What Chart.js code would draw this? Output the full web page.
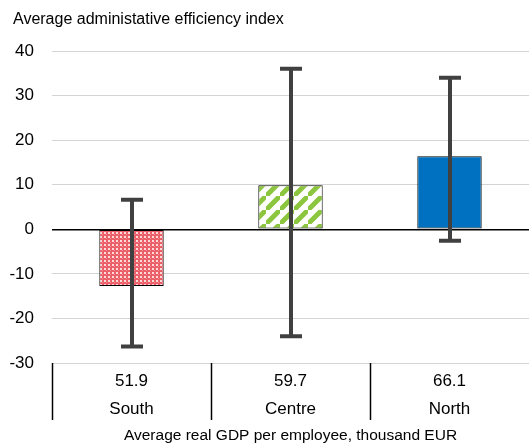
<!DOCTYPE html>
<html>
<head>
<meta charset="utf-8">
<script src="https://cdn.jsdelivr.net/npm/chart.js@4"></script>
<style>
  html, body { margin: 0; padding: 0; background: #fff; }
  #wrap { width: 529px; height: 445px; }
</style>
</head>
<body>
<div id="wrap"><canvas id="myChart" width="529" height="445"></canvas></div>
<script>
// data
var regions = ["South", "Centre", "North"];
var gdpPerEmployee = ["51.9", "59.7", "66.1"];
var efficiency = [-12.7, 9.9, 16.4];
var errLow = [-26.3, -24.0, -2.6];
var errHigh = [6.6, 36.0, 34.0];
var yMin = -30, yMax = 40, yStep = 10;

var FONT = "'Liberation Sans', Arial, sans-serif";

function checkerPattern() {
  var c = document.createElement('canvas');
  c.width = 4; c.height = 4;
  var g = c.getContext('2d');
  g.fillStyle = '#ec5f68';
  g.fillRect(0, 0, 4, 4);
  g.fillStyle = '#fcdada';
  g.fillRect(0, 0, 2, 2);
  g.fillStyle = '#f29298';
  g.fillRect(2, 2, 1, 1);
  return g.createPattern(c, 'repeat');
}

function stripePattern() {
  var s = 14;
  var c = document.createElement('canvas');
  c.width = s; c.height = s;
  var g = c.getContext('2d');
  g.fillStyle = '#ffffff';
  g.fillRect(0, 0, s, s);
  g.strokeStyle = '#8cc63f';
  g.lineWidth = 5;
  g.beginPath();
  g.moveTo(-s, s * 2); g.lineTo(s * 2, -s);
  g.moveTo(-s * 2, s); g.lineTo(s, -s * 2);
  g.moveTo(0, s * 3); g.lineTo(s * 3, 0);
  g.stroke();
  return g.createPattern(c, 'repeat');
}

var errorBars = {
  id: 'errorBars',
  afterDatasetsDraw: function (chart) {
    var ctx = chart.ctx;
    var y = chart.scales.y;
    var meta = chart.getDatasetMeta(0);
    ctx.save();
    ctx.strokeStyle = '#404040';
    ctx.lineWidth = 4;
    meta.data.forEach(function (bar, i) {
      var x = Math.round(bar.x);
      var top = y.getPixelForValue(errHigh[i]);
      var bot = y.getPixelForValue(errLow[i]);
      ctx.beginPath();
      ctx.moveTo(x, top); ctx.lineTo(x, bot);
      ctx.moveTo(x - 11, top); ctx.lineTo(x + 11, top);
      ctx.moveTo(x - 11, bot); ctx.lineTo(x + 11, bot);
      ctx.stroke();
    });
    ctx.restore();
  }
};

var topTitle = {
  id: 'topTitle',
  afterDraw: function (chart) {
    var ctx = chart.ctx;
    ctx.save();
    ctx.fillStyle = '#000';
    ctx.font = '16px ' + FONT;
    ctx.textBaseline = 'middle';
    ctx.fillText('Average administative efficiency index', 13, 20);
    ctx.restore();
  }
};

var ctx = document.getElementById('myChart').getContext('2d');
var myChart = new Chart(ctx, {
  type: 'bar',
  data: {
    labels: regions.map(function (r, i) { return [gdpPerEmployee[i], r]; }),
    datasets: [{
      data: efficiency,
      backgroundColor: [checkerPattern(), stripePattern(), '#0070c0'],
      borderColor: '#000',
      borderWidth: 1,
      borderSkipped: false,
      barPercentage: 0.405,
      categoryPercentage: 1
    }]
  },
  options: {
    responsive: false,
    animation: false,
    layout: { padding: { top: 51, right: 0, left: 0, bottom: 0 } },
    plugins: {
      legend: { display: false },
      tooltip: { enabled: false }
    },
    scales: {
      y: {
        min: yMin,
        max: yMax,
        afterFit: function (s) { s.width = 52; },
        ticks: { stepSize: yStep, color: '#000', padding: 18, font: { family: FONT, size: 17 } },
        border: { display: false },
        grid: {
          drawTicks: false,
          color: function (c) { return c.tick && c.tick.value === 0 ? '#000' : '#d4d4d4'; },
          lineWidth: function (c) { return c.tick && c.tick.value === 0 ? 1.5 : 1; }
        }
      },
      x: {
        offset: true,
        border: { display: false },
        afterFit: function (s) { s.height = 82; },
        grid: {
          offset: true,
          drawOnChartArea: false,
          drawTicks: true,
          tickLength: 57,
          tickWidth: 1.5,
          tickColor: function (c) { return c.tick ? '#000' : 'rgba(0,0,0,0)'; }
        },
        ticks: { color: '#000', padding: -53, maxRotation: 0, font: { family: FONT, size: 17, lineHeight: 1.65 } },
        title: {
          display: true,
          text: 'Average real GDP per employee, thousand EUR',
          color: '#000',
          padding: { top: 0, bottom: 0 },
          font: { family: FONT, size: 15.5 }
        }
      }
    }
  },
  plugins: [errorBars, topTitle]
});
</script>
</body>
</html>
